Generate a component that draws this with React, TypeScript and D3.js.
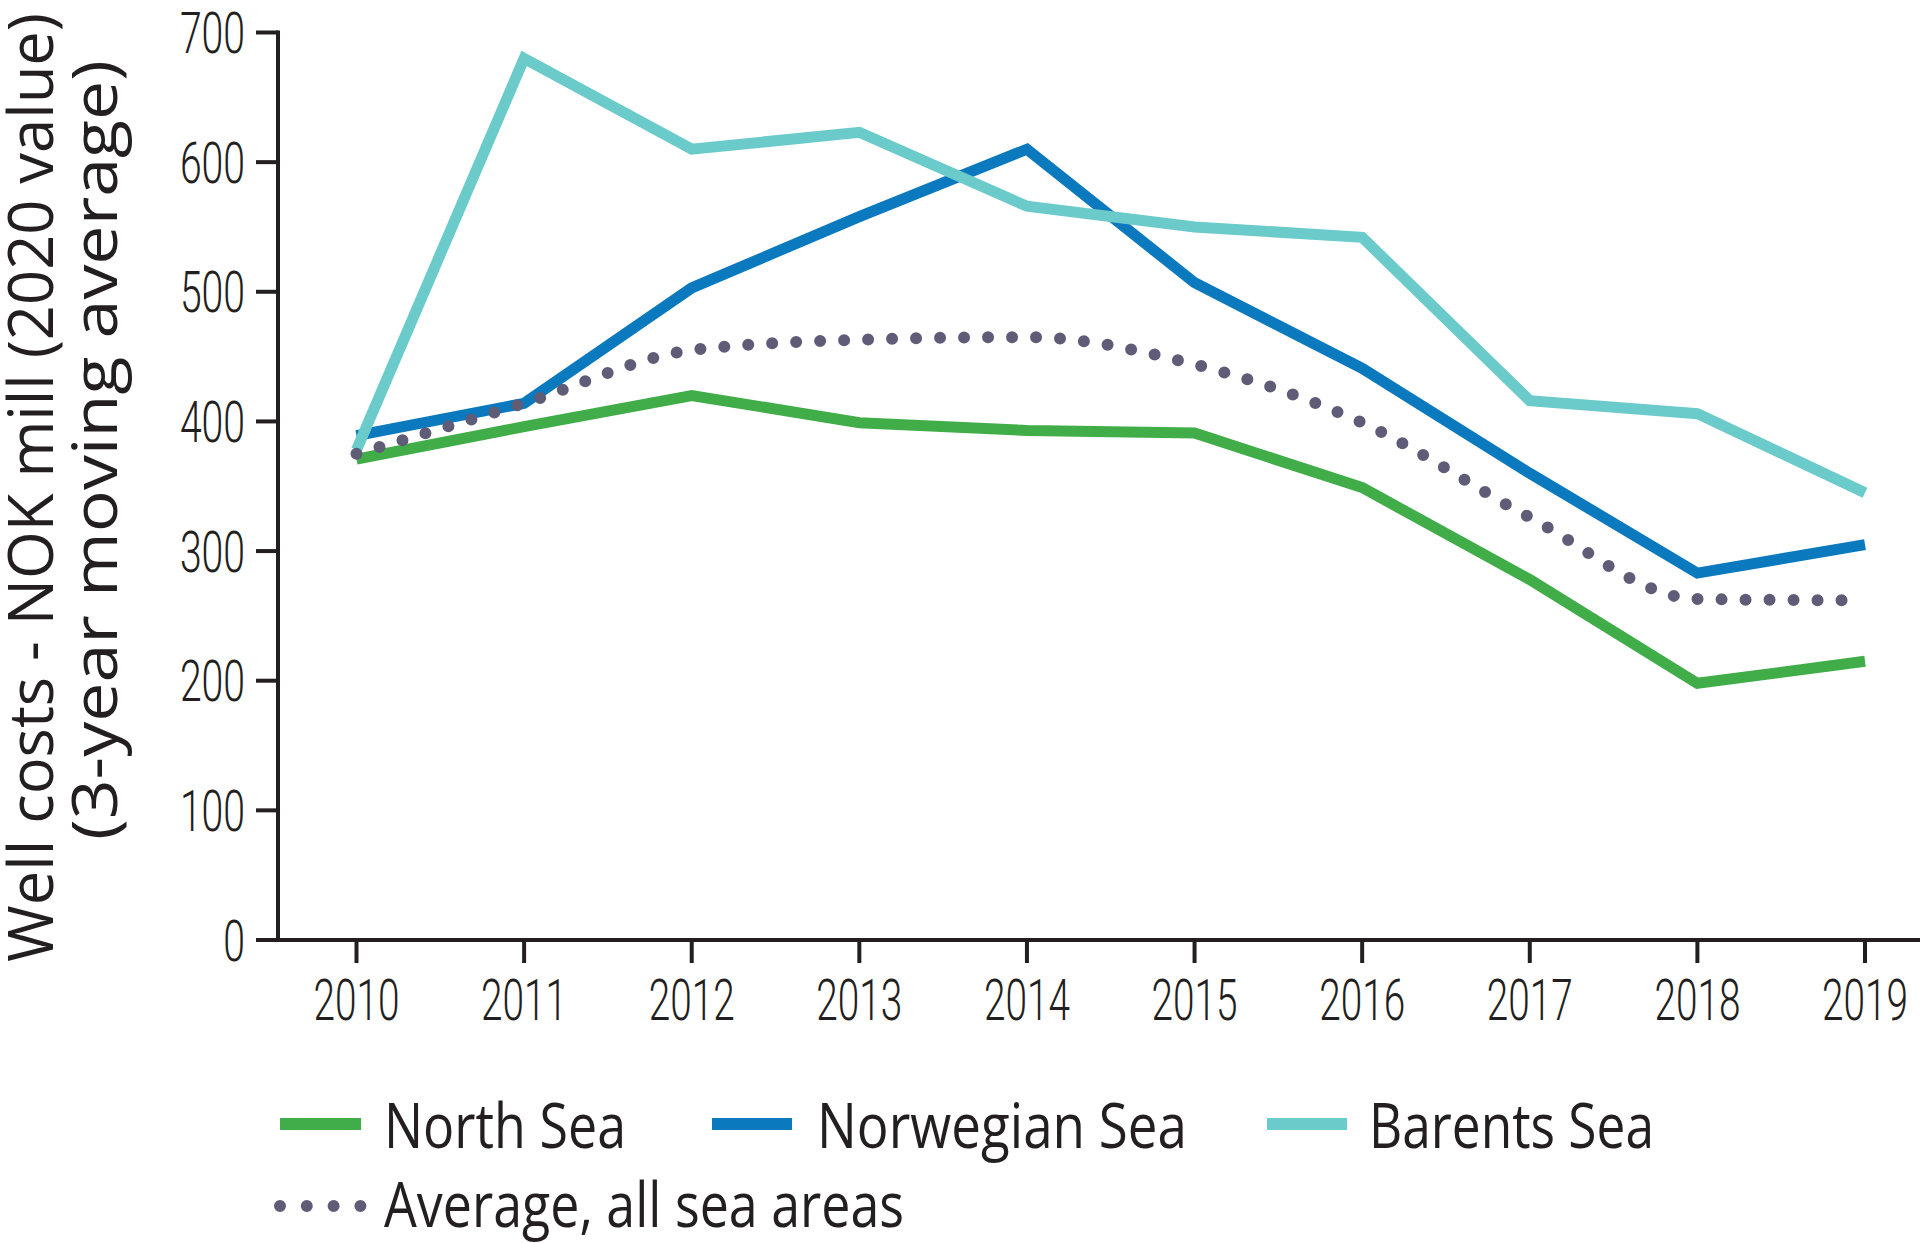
import React from "react";
import * as d3 from "d3";

const years = [2010, 2011, 2012, 2013, 2014, 2015, 2016, 2017, 2018, 2019];
const northSea = [371, 396, 420, 399, 393, 391, 349, 278, 198, 215];
const norwegianSea = [389, 414, 503, 558, 610, 507, 441, 360, 283, 305];
const barentsSea = [378, 680, 610, 623, 566, 550, 542, 416, 406, 345];
const averageAll = [375, 414, 455, 463, 465, 444, 399, 326, 263, 262];
const yTicks = [0, 100, 200, 300, 400, 500, 600, 700];

const titleLine1 = "Well costs - NOK mill (2020 value)";
const titleLine2 = "(3-year moving average)";

const C_GREEN = "#41AD49";
const C_BLUE = "#0A79BE";
const C_CYAN = "#6BCBCA";
const C_DOT = "#5F5C78";
const C_INK = "#231F20";

const W = 1920;
const H = 1243;

export default function App() {
  const x = d3.scaleLinear().domain([2010, 2019]).range([356.5, 1865]);
  const y = d3.scaleLinear().domain([0, 700]).range([940, 32.5]);

  const line = d3
    .line<number>()
    .x((_, i) => x(years[i]))
    .y((d) => y(d))
    .curve(d3.curveLinear);
  const smooth = d3
    .line<number>()
    .x((_, i) => x(years[i]))
    .y((d) => y(d))
    .curve(d3.curveMonotoneX);

  const tickFont = "Roboto, 'Liberation Sans', sans-serif";
  const textFont = "'Open Sans', 'Noto Sans', sans-serif";

  const series = [
    { data: northSea, color: C_GREEN },
    { data: norwegianSea, color: C_BLUE },
    { data: barentsSea, color: C_CYAN },
  ];

  const legendRow1 = [
    { label: "North Sea", color: C_GREEN, x0: 280, x1: 361, tx: 384, tl: 242 },
    { label: "Norwegian Sea", color: C_BLUE, x0: 712, x1: 792, tx: 817, tl: 370 },
    { label: "Barents Sea", color: C_CYAN, x0: 1267, x1: 1347, tx: 1369, tl: 285 },
  ];

  return (
    <svg
      width={W}
      height={H}
      viewBox={`0 0 ${W} ${H}`}
      style={{ position: "absolute", left: 0, top: 0, background: "#fff" }}
    >
      <rect x={0} y={0} width={W} height={H} fill="#fff" />

      {/* Y axis title */}
      <text
        transform={`translate(53, 962) rotate(-90)`}
        fontFamily={textFont}
        fontSize={63}
        fill={C_INK}
        textLength={949}
        lengthAdjust="spacingAndGlyphs"
      >
        {titleLine1}
      </text>
      <text
        transform={`translate(117, 840) rotate(-90)`}
        fontFamily={textFont}
        fontSize={63}
        fill={C_INK}
        textLength={780}
        lengthAdjust="spacingAndGlyphs"
      >
        {titleLine2}
      </text>

      {/* Y axis */}
      <line x1={278} x2={278} y1={y(700) - 2} y2={y(0) + 2} stroke={C_INK} strokeWidth={4} />
      {yTicks.map((t) => (
        <g key={"y" + t}>
          <line x1={256} x2={278} y1={y(t)} y2={y(t)} stroke={C_INK} strokeWidth={4} />
          <text
            x={245}
            y={y(t) + 20.5}
            textAnchor="end"
            fontFamily={tickFont}
            fontWeight={300}
            fontSize={58}
            fill={C_INK}
            textLength={String(t).length * 21.7}
            lengthAdjust="spacingAndGlyphs"
          >
            {t}
          </text>
        </g>
      ))}

      {/* X axis */}
      <line x1={276} x2={1920} y1={y(0)} y2={y(0)} stroke={C_INK} strokeWidth={4} />
      {years.map((yr) => (
        <g key={"x" + yr}>
          <line x1={x(yr)} x2={x(yr)} y1={y(0)} y2={y(0) + 23} stroke={C_INK} strokeWidth={4} />
          <text
            x={x(yr)}
            y={1020}
            textAnchor="middle"
            fontFamily={tickFont}
            fontWeight={300}
            fontSize={58}
            fill={C_INK}
            textLength={86}
            lengthAdjust="spacingAndGlyphs"
          >
            {yr}
          </text>
        </g>
      ))}

      {/* Series lines */}
      {series.map((s, i) => (
        <path
          key={"s" + i}
          d={line(s.data) || ""}
          fill="none"
          stroke={s.color}
          strokeWidth={11}
          strokeLinejoin="miter"
          strokeLinecap="butt"
        />
      ))}
      <path
        d={smooth(averageAll) || ""}
        fill="none"
        stroke={C_DOT}
        strokeWidth={12}
        strokeLinecap="round"
        strokeDasharray="0 24"
      />

      {/* Legend */}
      {legendRow1.map((l) => (
        <g key={l.label}>
          <line x1={l.x0} x2={l.x1} y1={1124} y2={1124} stroke={l.color} strokeWidth={12} />
          <text
            x={l.tx}
            y={1148}
            fontFamily={textFont}
            fontSize={63}
            fill={C_INK}
            textLength={l.tl}
            lengthAdjust="spacingAndGlyphs"
          >
            {l.label}
          </text>
        </g>
      ))}
      <line
        x1={280}
        x2={360.5}
        y1={1206}
        y2={1206}
        stroke={C_DOT}
        strokeWidth={12}
        strokeLinecap="round"
        strokeDasharray="0 26.8"
      />
      <text
        x={384}
        y={1227}
        fontFamily={textFont}
        fontSize={63}
        fill={C_INK}
        textLength={520}
        lengthAdjust="spacingAndGlyphs"
      >
        Average, all sea areas
      </text>
    </svg>
  );
}
